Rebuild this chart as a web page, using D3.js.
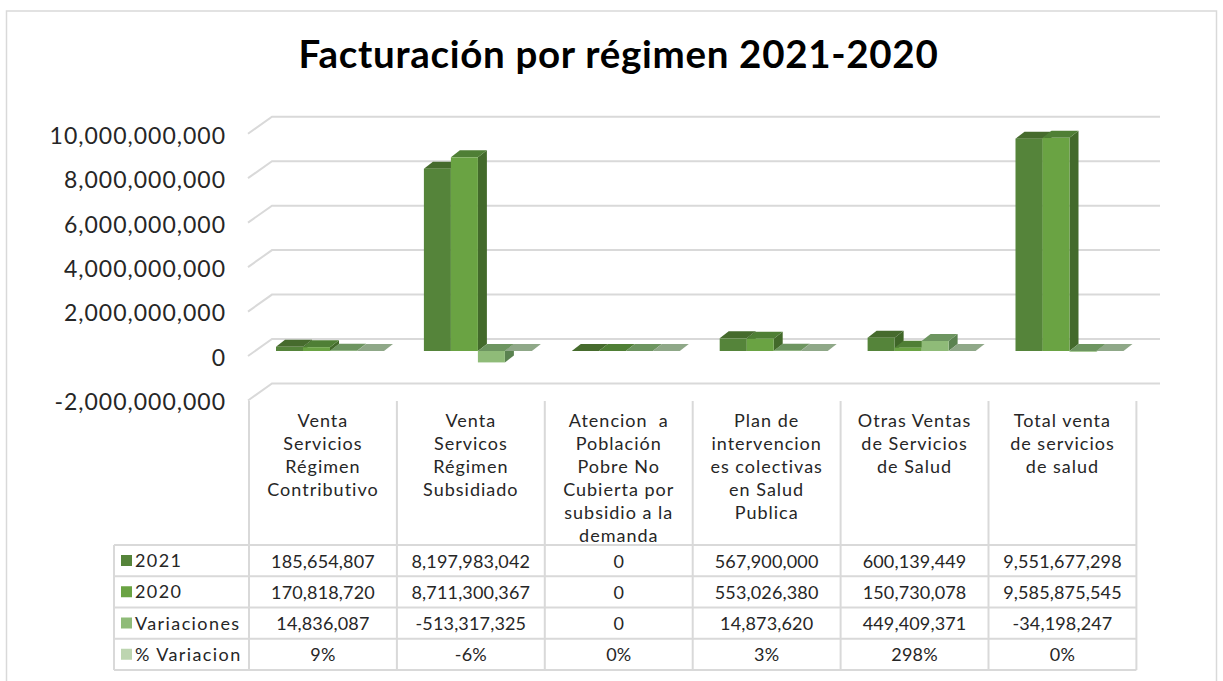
<!DOCTYPE html>
<html lang="en">
<head>
<meta charset="UTF-8">
<title>Facturación por régimen 2021-2020</title>
<script src="https://d3js.org/d3.v7.min.js"></script>
<style>
  html, body { margin: 0; background: #fff; }
  svg { display: block; }
  text { font-family: "Lato", sans-serif; fill: #262626; }
</style>
</head>
<body>
<div id="chart"></div>
<script>
// chart data
const categories = ["contributivo", "subsidiado", "pobre", "pic", "otras", "total"];
const categoryLabels = [
  ["Venta", "Servicios", "Régimen", "Contributivo"],
  ["Venta", "Servicos", "Régimen", "Subsidiado"],
  ["Atencion  a", "Población", "Pobre No", "Cubierta por", "subsidio a la", "demanda"],
  ["Plan de", "intervencion", "es colectivas", "en Salud", "Publica"],
  ["Otras Ventas", "de Servicios", "de Salud"],
  ["Total venta", "de servicios", "de salud"]
];
const seriesNames = ["2021", "2020", "Variaciones", "% Variacion"];
const values2021 = [185654807, 8197983042, 0, 567900000, 600139449, 9551677298];
const values2020 = [170818720, 8711300367, 0, 553026380, 150730078, 9585875545];
const valuesVariaciones = [14836087, -513317325, 0, 14873620, 449409371, -34198247];
const valuesPct = [0.09, -0.06, 0, 0.03, 2.98, 0];
const pctLabels = ["9%", "-6%", "0%", "3%", "298%", "0%"];
const yTicks = [-2000000000, 0, 2000000000, 4000000000, 6000000000, 8000000000, 10000000000];
const seriesValues = [values2021, values2020, valuesVariaciones, valuesPct];

// front, top and side colours of each series
const frontColors = ["#55843a", "#6aa343", "#8fbb78", "#bdd5b0"];
const topColors = ["#466b2d", "#4f7f35", "#6d9560", "#8fa888"];
const sideColors = ["#3f6628", "#436a2b", "#5a8250", "#7d9a72"];
const gridColor = "#d9d9d9";

const width = 1223, height = 681;
const wall = {dx: 24, dy: 17};   // depth of the floor/wall
const bar = {dx: 9, dy: 7};      // depth of one bar

const svg = d3.select("#chart").append("svg")
  .attr("width", width)
  .attr("height", height);

// frame of the chart
svg.append("rect")
  .attr("x", 6.5).attr("y", 11)
  .attr("width", 1210).attr("height", 690)
  .attr("fill", "none").attr("stroke", "#d9d9d9").attr("stroke-width", 1.5);

svg.append("text")
  .attr("x", 618.5).attr("y", 68)
  .attr("text-anchor", "middle")
  .style("font-size", "38.5px").style("font-weight", 700)
  .style("letter-spacing", "0.7px")
  .style("fill", "#000")
  .text("Facturación por régimen 2021-2020");

// scales, y is the front plane of the floor
const y = d3.scaleLinear().domain([-2000000000, 10000000000]).range([400.5, 133.7]);
const x = d3.scaleBand().domain(categories).range([249, 1136.4]);
const xBar = d3.scaleBand().domain(d3.range(4)).range([27, 135]);

// plain hyphen for negatives, like the original
const fmt = v => d3.format(",")(v).replace("−", "-");

// gridlines run along the back wall and then come forward on the side wall
svg.append("g").selectAll("path")
  .data(yTicks)
  .join("path")
  .attr("d", d => `M${x.range()[0] - 1},${y(d)}L${x.range()[0] - 1 + wall.dx},${y(d) - wall.dy}H1160`)
  .attr("fill", "none")
  .attr("stroke", gridColor)
  .attr("stroke-width", 2);

// y axis labels
const axis = svg.append("g")
  .attr("transform", "translate(226,2)")
  .call(d3.axisLeft(y).tickValues(yTicks).tickSize(0).tickPadding(0).tickFormat(fmt));
axis.select(".domain").remove();
axis.selectAll("text")
  .style("font-size", "23px").style("font-family", "Lato").style("fill", "#262626")
  .style("letter-spacing", "1px");

// 3D bars: zero of the bars sits a little behind the front of the floor
const zeroShift = y(0) - 351;
const bars = svg.append("g");
categories.forEach((c, ci) => {
  seriesNames.forEach((s, si) => {
    const v = seriesValues[si][ci];
    const x0 = x(c) + xBar(si);
    const w = xBar.bandwidth();
    const y0 = y(0) - zeroShift;
    const y1 = y(v) - zeroShift;
    const top = Math.min(y0, y1), bottom = Math.max(y0, y1);
    const g = bars.append("g");
    // side
    g.append("path")
      .attr("d", `M${x0 + w},${top}l${bar.dx},${-bar.dy}V${bottom - bar.dy}l${-bar.dx},${bar.dy}Z`)
      .attr("fill", sideColors[si]);
    // top face, for a negative bar this stays on the zero plane
    g.append("path")
      .attr("d", `M${x0},${top}l${bar.dx},${-bar.dy}h${w}l${-bar.dx},${bar.dy}Z`)
      .attr("fill", topColors[si]);
    // front
    g.append("rect")
      .attr("x", x0).attr("y", top)
      .attr("width", w).attr("height", bottom - top)
      .attr("fill", frontColors[si]);
  });
});

// data table
const tableLeft = 114;
const rowY = d3.scaleBand().domain(seriesNames).range([545, 670]);
const columnEdges = categories.map(c => x(c)).concat(x.range()[1]);
const table = svg.append("g");

table.selectAll(".col")
  .data(columnEdges)
  .join("line")
  .attr("class", "col")
  .attr("x1", d => d).attr("x2", d => d)
  .attr("y1", 401).attr("y2", 670)
  .attr("stroke", gridColor).attr("stroke-width", 2);

table.append("line")
  .attr("x1", tableLeft).attr("x2", tableLeft)
  .attr("y1", 545).attr("y2", 670)
  .attr("stroke", gridColor).attr("stroke-width", 2);

table.selectAll(".row")
  .data(seriesNames.concat("end"))
  .join("line")
  .attr("class", "row")
  .attr("x1", tableLeft).attr("x2", x.range()[1])
  .attr("y1", d => d === "end" ? 670 : rowY(d))
  .attr("y2", d => d === "end" ? 670 : rowY(d))
  .attr("stroke", gridColor).attr("stroke-width", 2);

// category labels above the table
categories.forEach((c, i) => {
  table.append("text")
    .attr("text-anchor", "middle")
    .style("font-size", "18px")
    .style("letter-spacing", "1px")
    .selectAll("tspan")
    .data(categoryLabels[i])
    .join("tspan")
    .attr("x", x(c) + x.bandwidth() / 2)
    .attr("y", (d, j) => 427 + j * 23)
    .style("white-space", "pre")
    .text(d => d);
});

// legend keys and names
seriesNames.forEach((s, si) => {
  const ry = rowY(s);
  table.append("rect")
    .attr("x", 121).attr("y", ry + 10)
    .attr("width", 11).attr("height", 11)
    .attr("fill", frontColors[si]);
  table.append("text")
    .attr("x", 135).attr("y", ry + 22)
    .style("font-size", "18px")
    .style("letter-spacing", "1.4px")
    .text(s);
});

// table values
seriesNames.forEach((s, si) => {
  categories.forEach((c, ci) => {
    table.append("text")
      .attr("x", x(c) + x.bandwidth() / 2)
      .attr("y", rowY(s) + 22.5)
      .attr("text-anchor", "middle")
      .style("font-size", "18px")
      .style("letter-spacing", "0.15px")
      .text(si === 3 ? pctLabels[ci] : fmt(seriesValues[si][ci]));
  });
});
</script>
</body>
</html>
